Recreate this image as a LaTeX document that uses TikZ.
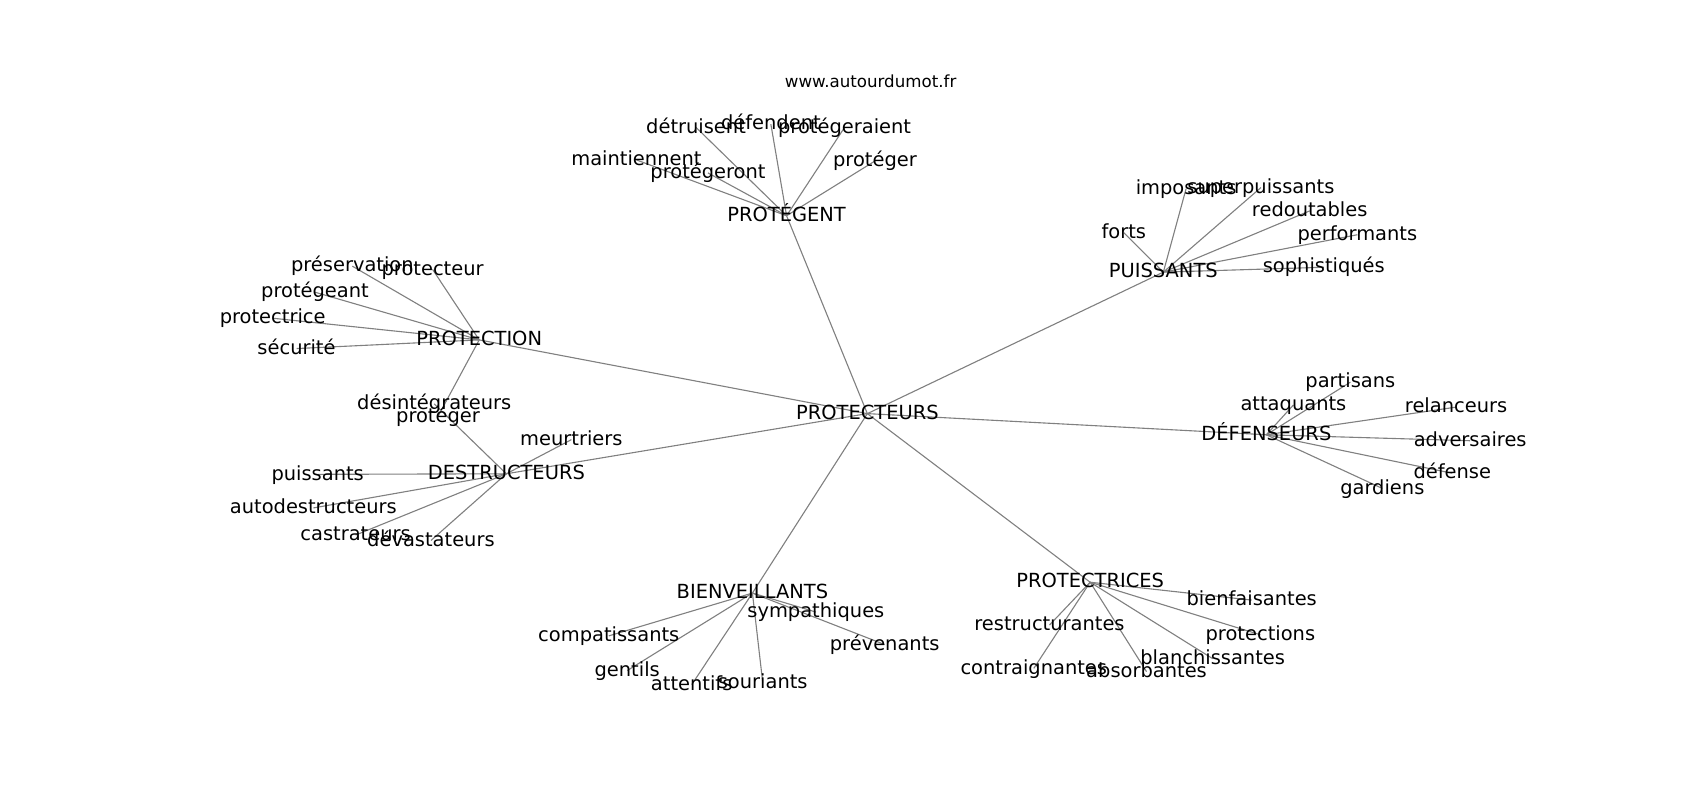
\documentclass[tikz,border=0pt]{standalone}
\usepackage{fontspec}
\setmainfont{DejaVu Sans}
\usetikzlibrary{backgrounds}
\definecolor{edgegray}{gray}{0.5}
\tikzset{word/.style={inner sep=0pt, text height=0.82em, text depth=0pt, font=\fontsize{14}{16}\selectfont},
  edge/.style={draw=edgegray, line width=0.8pt}}

\begin{document}
\begin{tikzpicture}[x=0.7806pt, y=-0.7806pt]
\useasboundingbox (0,0) rectangle (1568,738);
\node[inner sep=0pt, text height=0.76em, text depth=0pt, font=\fontsize{12}{14}\selectfont] (site) at (803,76) {www.autourdumot.fr};
% centre
\node[word] (protecteurs) at (800,381.5) {PROTECTEURS};
\node[word] (protegent) at (725.5,199) {PROTÉGENT};
\node[word] (puissants) at (1073,251) {PUISSANTS};
\node[word] (protection) at (442,313.5) {PROTECTION};
\node[word] (destructeurs) at (467,437) {DESTRUCTEURS};
\node[word] (defenseurs) at (1168,401) {DÉFENSEURS};
\node[word] (bienveillants) at (694,547) {BIENVEILLANTS};
\node[word] (protectrices) at (1005.5,537) {PROTECTRICES};
% PROTÉGENT
\node[word] (detruisent) at (642,117.5) {détruisent};
\node[word] (defendent) at (711,114.5) {défendent};
\node[word] (protegeraient) at (779,117.5) {protégeraient};
\node[word] (maintiennent) at (587,147.5) {maintiennent};
\node[word] (protegerA) at (807,148.5) {protéger};
\node[word] (protegeront) at (653,159.5) {protégeront};
% PUISSANTS
\node[word] (imposants) at (1094,174) {imposants};
\node[word] (superpuissants) at (1163,173) {superpuissants};
\node[word] (redoutables) at (1208,194.5) {redoutables};
\node[word] (performants) at (1252,216.5) {performants};
\node[word] (sophistiques) at (1221,246.5) {sophistiqués};
\node[word] (forts) at (1036.5,214.5) {forts};
% PROTECTION
\node[word] (preservation) at (325,245.5) {préservation};
\node[word] (protecteur) at (399,248.5) {protecteur};
\node[word] (protegeant) at (290.5,269.5) {protégeant};
\node[word] (protectrice) at (251.5,293.5) {protectrice};
\node[word] (securite) at (273.5,321.5) {sécurité};
\node[word] (protegerB) at (404,384) {protéger};
% DESTRUCTEURS
\node[word] (meurtriers) at (527,405.5) {meurtriers};
\node[word] (puissantsB) at (293,437.5) {puissants};
\node[word] (autodestructeurs) at (289,468.5) {autodestructeurs};
\node[word] (castrateurs) at (328,493.5) {castrateurs};
\node[word] (devastateurs) at (397.5,498.5) {dévastateurs};
\node[word] (desintegrateurs) at (400.5,372.5) {désintégrateurs};
% DÉFENSEURS
\node[word] (partisans) at (1245.5,352.5) {partisans};
\node[word] (attaquants) at (1193,373.5) {attaquants};
\node[word] (relanceurs) at (1343,375.5) {relanceurs};
\node[word] (adversaires) at (1356,406.5) {adversaires};
\node[word] (defense) at (1339.5,436.5) {défense};
\node[word] (gardiens) at (1275,450.5) {gardiens};
% BIENVEILLANTS
\node[word] (compatissants) at (561.5,586.5) {compatissants};
\node[word] (gentils) at (578.5,618.5) {gentils};
\node[word] (attentifs) at (638,631.5) {attentifs};
\node[word] (souriants) at (703.5,629.5) {souriants};
\node[word] (sympathiques) at (752.5,564.5) {sympathiques};
\node[word] (prevenants) at (816,594.5) {prévenants};
% PROTECTRICES
\node[word] (bienfaisantes) at (1154.5,553.5) {bienfaisantes};
\node[word] (restructurantes) at (968,576.5) {restructurantes};
\node[word] (protections) at (1162.5,585.5) {protections};
\node[word] (blanchissantes) at (1118.5,607.5) {blanchissantes};
\node[word] (contraignantes) at (953.5,616.5) {contraignantes};
\node[word] (absorbantes) at (1057.5,619.5) {absorbantes};
\begin{scope}[on background layer]
\foreach \a/\b in {protecteurs/protegent, protecteurs/puissants, protecteurs/protection,
  protecteurs/destructeurs, protecteurs/defenseurs, protecteurs/bienveillants, protecteurs/protectrices,
  protegent/detruisent, protegent/defendent, protegent/protegeraient, protegent/maintiennent,
  protegent/protegerA, protegent/protegeront,
  puissants/imposants, puissants/superpuissants, puissants/redoutables, puissants/performants,
  puissants/sophistiques, puissants/forts,
  protection/preservation, protection/protecteur, protection/protegeant, protection/protectrice,
  protection/securite, protection/protegerB,
  destructeurs/meurtriers, destructeurs/puissantsB, destructeurs/autodestructeurs,
  destructeurs/castrateurs, destructeurs/devastateurs, destructeurs/desintegrateurs,
  defenseurs/partisans, defenseurs/attaquants, defenseurs/relanceurs, defenseurs/adversaires,
  defenseurs/defense, defenseurs/gardiens,
  bienveillants/compatissants, bienveillants/gentils, bienveillants/attentifs,
  bienveillants/souriants, bienveillants/sympathiques, bienveillants/prevenants,
  protectrices/bienfaisantes, protectrices/restructurantes, protectrices/protections,
  protectrices/blanchissantes, protectrices/contraignantes, protectrices/absorbantes}
  \draw[edge] (\a.center) -- (\b.center);
\end{scope}
\end{tikzpicture}
\end{document}
